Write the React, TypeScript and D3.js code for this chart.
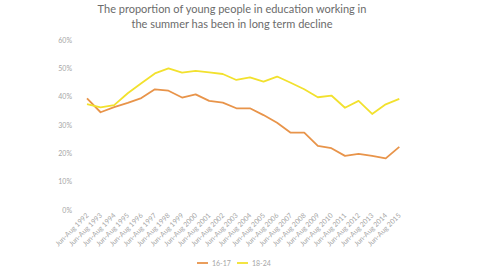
import React, { useEffect, useRef } from "react";
import * as d3 from "d3";

const years = [
  1992, 1993, 1994, 1995, 1996, 1997, 1998, 1999, 2000, 2001, 2002, 2003,
  2004, 2005, 2006, 2007, 2008, 2009, 2010, 2011, 2012, 2013, 2014, 2015,
];
const labels = years.map((y) => "Jun-Aug " + y);

const age1617 = [
  39.4, 34.5, 36.3, 37.8, 39.5, 42.6, 42.1, 39.7, 40.8, 38.5, 37.9, 35.9,
  35.9, 33.5, 30.8, 27.3, 27.3, 22.6, 21.8, 19.1, 19.8, 19.1, 18.2, 22.3,
];
const age1824 = [
  37.4, 36.2, 37.0, 41.2, 44.7, 48.2, 50.0, 48.5, 49.1, 48.6, 48.0, 45.9,
  46.8, 45.3, 47.1, 44.9, 42.6, 39.8, 40.4, 36.1, 38.5, 33.9, 37.3, 39.2,
];
const yTicks = [0, 10, 20, 30, 40, 50, 60];

const seriesNames = ["16-17", "18-24"];
const colors = ["#E8944A", "#F2E12E"];

const App = () => {
  const svgRef = useRef<SVGSVGElement>(null);

  useEffect(() => {
    const svg = d3.select(svgRef.current);
    svg.selectAll("*").remove();

    const font = "Lato, 'Open Sans', sans-serif";

    var x = d3.scalePoint<string>().domain(labels).range([87, 399.3]);
    var y = d3.scaleLinear().domain([0, 60]).range([210, 40]);

    // title
    const title = svg
      .append("text")
      .attr("text-anchor", "middle")
      .attr("font-family", font)
      .attr("font-size", 11)
      .attr("fill", "#6b6b6b");
    title.append("tspan").attr("x", 232).attr("y", 13).text("The proportion of young people in education working in");
    title.append("tspan").attr("x", 232).attr("y", 28).text("the summer has been in long term decline");

    // y axis labels
    svg
      .append("g")
      .selectAll("text")
      .data(yTicks)
      .enter()
      .append("text")
      .attr("x", 72)
      .attr("y", (d) => y(d) + 2.5)
      .attr("text-anchor", "end")
      .attr("font-family", font)
      .attr("font-size", 7)
      .attr("fill", "#a6a6a6")
      .text((d) => d + "%");

    // x axis labels
    svg
      .append("g")
      .selectAll("text")
      .data(labels)
      .enter()
      .append("text")
      .attr("transform", (d) => `translate(${x(d)! + 2}, 216) rotate(-45)`)
      .attr("text-anchor", "end")
      .attr("font-family", font)
      .attr("font-size", 7)
      .attr("fill", "#a6a6a6")
      .text((d) => d);

    var line = d3
      .line<number>()
      .x((d, i) => x(labels[i])!)
      .y((d) => y(d));

    [age1617, age1824].forEach((s, i) => {
      svg
        .append("path")
        .datum(s)
        .attr("fill", "none")
        .attr("stroke", colors[i])
        .attr("stroke-width", 1.8)
        .attr("stroke-linejoin", "round")
        .attr("d", line);
    });

    // legend
    const legX = [197, 237];
    seriesNames.forEach((n, i) => {
      const g = svg.append("g").attr("transform", `translate(${legX[i]}, 263)`);
      g.append("line")
        .attr("x1", 0)
        .attr("x2", 11)
        .attr("y1", 0)
        .attr("y2", 0)
        .attr("stroke", colors[i])
        .attr("stroke-width", 1.8);
      g.append("text")
        .attr("x", 15)
        .attr("y", 2.5)
        .attr("font-family", font)
        .attr("font-size", 7)
        .attr("fill", "#a6a6a6")
        .text(n);
    });
  }, []);

  return (
    <div style={{ position: "absolute", left: 0, top: 0, width: 480, height: 270, background: "#fff" }}>
      <svg ref={svgRef} width={480} height={270}></svg>
    </div>
  );
};

export default App;
